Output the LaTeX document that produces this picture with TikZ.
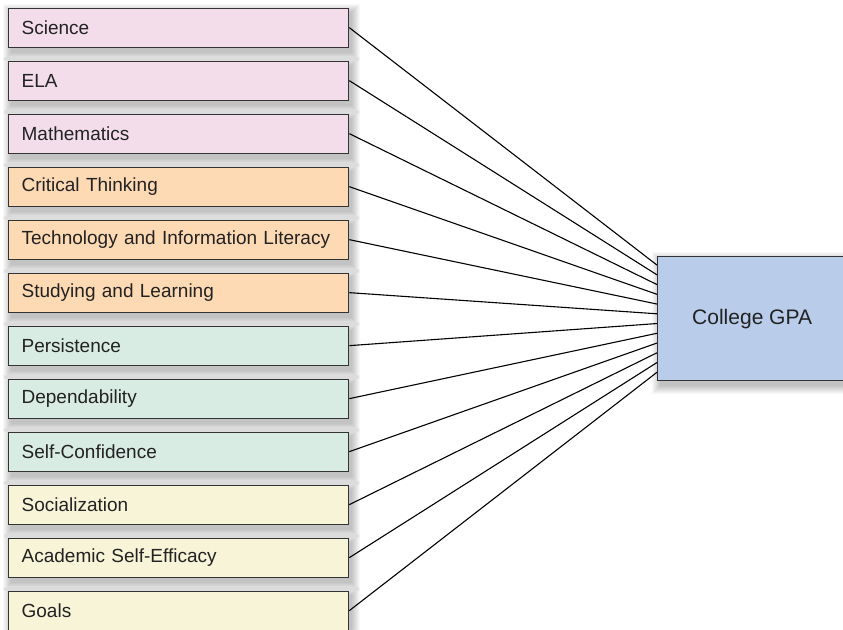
\documentclass[tikz,border=0pt]{standalone}
\usepackage{fontspec}
\setmainfont{Liberation Sans}
\usetikzlibrary{calc,backgrounds}
\definecolor{pinkfill}{HTML}{F3DDEA}
\definecolor{orangefill}{HTML}{FDD9B4}
\definecolor{greenfill}{HTML}{D9ECE4}
\definecolor{yellowfill}{HTML}{F8F4D8}
\definecolor{bluefill}{HTML}{B9CCEA}
\definecolor{edge}{HTML}{333333}
\definecolor{txt}{HTML}{222222}
\tikzset{
  factor/.style={draw=edge, line width=1.3pt, rectangle, anchor=north west,
    minimum width=340pt, minimum height=39pt, text width=314pt, inner xsep=13pt, inner ysep=0pt,
    align=left, font=\fontsize{19}{22}\selectfont, text=txt},
  outbox/.style={draw=edge, line width=1.3pt, rectangle, anchor=north west,
    minimum width=189pt, minimum height=124pt, inner sep=0pt,
    font=\fontsize{21}{24}\selectfont, text=txt, fill=bluefill},
  link/.style={draw=black, line width=1.1pt},
  softshade/.style={fill=black, opacity=0.028}
}
\newcommand{\softshadow}[1]{%
  \foreach \k in {0,1,...,8} {
    \fill[softshade] ($(#1.north west)+(3-\k,4-\k)$) rectangle ($(#1.south east)+(3+\k,5+\k)$);
  }}
\begin{document}
\begin{tikzpicture}[x=1pt,y=-1pt]
\useasboundingbox (0,0) rectangle (843,629);
\begin{scope}[on background layer]
  \fill[white] (0,0) rectangle (843,629);
\end{scope}
\node[outbox] (gpa) at (657,256) {College GPA};
\begin{scope}[on background layer]
  \softshadow{gpa}
\end{scope}
\foreach \name/\txt/\col [count=\i from 0] in {
  a/Science/pinkfill, b/ELA/pinkfill, c/Mathematics/pinkfill,
  d/Critical Thinking/orangefill, e/Technology and Information Literacy/orangefill, f/Studying and Learning/orangefill,
  g/Persistence/greenfill, h/Dependability/greenfill, k/Self-Confidence/greenfill,
  l/Socialization/yellowfill, m/Academic Self-Efficacy/yellowfill, n/Goals/yellowfill} {
  \node[factor, fill=\col] (\name) at (8, 7.5+53*\i) {\txt};
  \begin{scope}[on background layer]
    \softshadow{\name}
  \end{scope}
  \pgfmathsetmacro{\fr}{(9+9.64*\i)/124}
  \coordinate (e\name) at ($(gpa.north west)!\fr!(gpa.south west)$);
  \draw[link] (\name.east) -- (e\name);
}
\end{tikzpicture}
\end{document}
